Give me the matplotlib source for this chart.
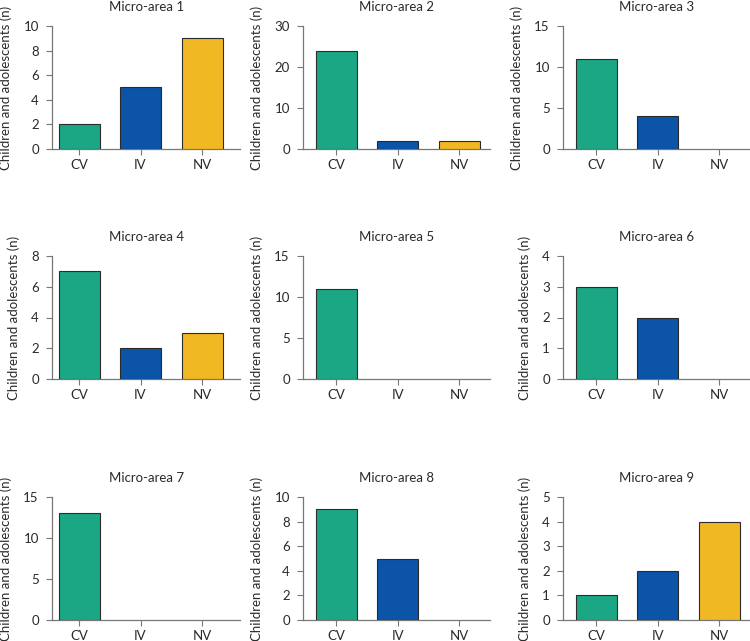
import matplotlib
matplotlib.use("Agg")
import matplotlib.pyplot as plt

plt.rcParams['font.family'] = ['Lato', 'DejaVu Sans']

groups = ['CV', 'IV', 'NV']
colors = ['#1ba684', '#0b54a8', '#f0b923']

titles = ['Micro-area 1', 'Micro-area 2', 'Micro-area 3',
          'Micro-area 4', 'Micro-area 5', 'Micro-area 6',
          'Micro-area 7', 'Micro-area 8', 'Micro-area 9']

area1 = [2, 5, 9]
area2 = [24, 2, 2]
area3 = [11, 4, 0]
area4 = [7, 2, 3]
area5 = [11, 0, 0]
area6 = [3, 2, 0]
area7 = [13, 0, 0]
area8 = [9, 5, 0]
area9 = [1, 2, 4]
values = [area1, area2, area3, area4, area5, area6, area7, area8, area9]

y_max = [10, 30, 15, 8, 15, 4, 15, 10, 5]
y_step = [2, 10, 5, 2, 5, 1, 5, 2, 1]

W, H = 750, 641
fig = plt.figure(figsize=(W / 100, H / 100), dpi=100)

col_left = [52, 303, 563]
col_xlim = [(-0.44, 2.62), (-0.54, 2.50), (-0.54, 2.50)]
row_top = [26, 256, 497]
row_bottom = [149, 379, 620]
unit_px = 61.5

for i in range(9):
    r, c = divmod(i, 3)
    x0, x1 = col_xlim[c]
    w_px = (x1 - x0) * unit_px
    ax = fig.add_axes([col_left[c] / W, 1 - row_bottom[r] / H,
                       w_px / W, (row_bottom[r] - row_top[r]) / H])
    vals = values[i]
    lws = [0.8 if v > 0 else 0 for v in vals]
    ax.bar(range(3), vals, width=0.667, color=colors,
           edgecolor='#2b2b2b', linewidth=lws, zorder=3)
    ax.set_xlim(x0, x1)
    ax.set_ylim(0, y_max[i])
    ax.set_yticks(range(0, y_max[i] + 1, y_step[i]))
    ax.set_xticks(range(3))
    ax.set_xticklabels(groups)
    for s in ['top', 'right']:
        ax.spines[s].set_visible(False)
    for s in ['left', 'bottom']:
        ax.spines[s].set_color('#777777')
        ax.spines[s].set_linewidth(0.9)
    ax.tick_params(axis='both', direction='out', length=4.5, width=0.8,
                   color='#777777', labelsize=9.5, labelcolor='#2a2a2a')
    ax.tick_params(axis='y', pad=5)
    ax.tick_params(axis='x', pad=3)
    ax.set_title(titles[i], fontsize=9.5, color='#2a2a2a', pad=11)
    ax.set_ylabel('Children and adolescents (n)', fontsize=9.5,
                  color='#2a2a2a', labelpad=8)

fig.savefig('out.png', dpi=100)
